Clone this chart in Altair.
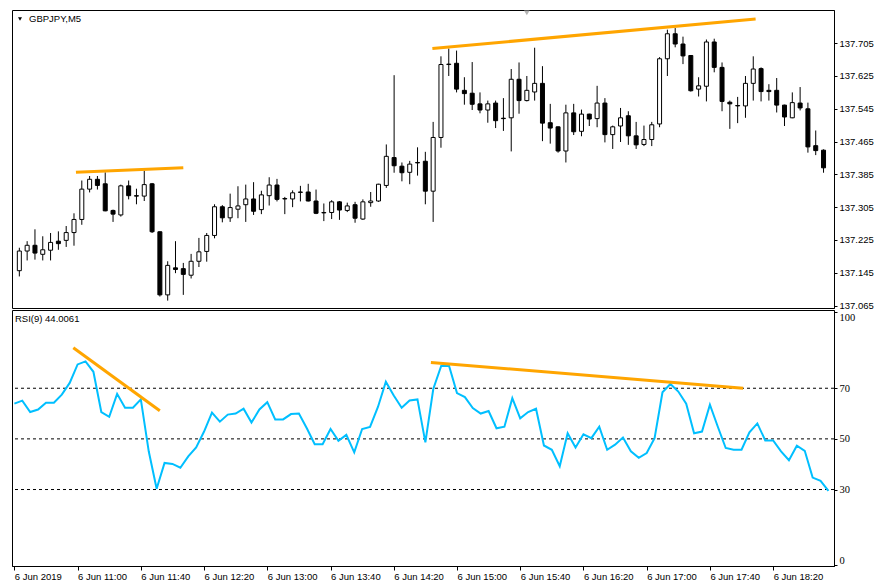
import altair as alt
import pandas as pd

# ---- candle data (GBPJPY, M5) ----
opens = [137.150, 137.198, 137.212, 137.190, 137.200, 137.222, 137.224, 137.243, 137.275, 137.349,
         137.373, 137.362, 137.297, 137.286, 137.357, 137.333, 137.332, 137.362, 137.245, 137.091,
         137.157, 137.155, 137.139, 137.173, 137.197, 137.236, 137.306, 137.279, 137.300, 137.311,
         137.325, 137.299, 137.333, 137.359, 137.326, 137.325, 137.341, 137.342, 137.320, 137.291,
         137.292, 137.318, 137.297, 137.311, 137.276, 137.316, 137.320, 137.358, 137.426, 137.405,
         137.390, 137.414, 137.417, 137.344, 137.475, 137.653, 137.656, 137.590, 137.583, 137.557,
         137.542, 137.559, 137.522, 137.523, 137.617, 137.565, 137.586, 137.607, 137.511, 137.501,
         137.442, 137.535, 137.490, 137.532, 137.521, 137.559, 137.482, 137.503, 137.528, 137.479,
         137.458, 137.470, 137.508, 137.667, 137.728, 137.703, 137.675, 137.593, 137.600, 137.708,
         137.646, 137.561, 137.553, 137.552, 137.607, 137.643, 137.590, 137.590, 137.554, 137.523,
         137.559, 137.545, 137.455, 137.444]
highs = [137.206, 137.222, 137.251, 137.234, 137.242, 137.246, 137.259, 137.290, 137.370, 137.381,
         137.381, 137.390, 137.299, 137.360, 137.370, 137.350, 137.394, 137.364, 137.246, 137.173,
         137.222, 137.169, 137.191, 137.230, 137.242, 137.312, 137.310, 137.338, 137.356, 137.360,
         137.366, 137.345, 137.378, 137.374, 137.330, 137.346, 137.357, 137.362, 137.348, 137.314,
         137.322, 137.320, 137.316, 137.318, 137.324, 137.342, 137.362, 137.458, 137.627, 137.414,
         137.418, 137.451, 137.440, 137.513, 137.673, 137.692, 137.687, 137.622, 137.659, 137.585,
         137.565, 137.565, 137.571, 137.642, 137.658, 137.625, 137.694, 137.649, 137.557, 137.502,
         137.555, 137.557, 137.543, 137.533, 137.601, 137.571, 137.504, 137.547, 137.539, 137.513,
         137.504, 137.513, 137.671, 137.738, 137.742, 137.721, 137.676, 137.622, 137.714, 137.716,
         137.658, 137.565, 137.574, 137.625, 137.673, 137.646, 137.605, 137.620, 137.555, 137.585,
         137.598, 137.560, 137.492, 137.446]
lows = [137.136, 137.175, 137.177, 137.175, 137.175, 137.201, 137.208, 137.211, 137.262, 137.341,
        137.348, 137.295, 137.269, 137.282, 137.324, 137.312, 137.320, 137.242, 137.087, 137.077,
        137.144, 137.091, 137.131, 137.159, 137.172, 137.229, 137.268, 137.269, 137.278, 137.269,
        137.286, 137.288, 137.309, 137.319, 137.288, 137.305, 137.319, 137.319, 137.288, 137.271,
        137.276, 137.274, 137.293, 137.267, 137.274, 137.306, 137.318, 137.352, 137.389, 137.368,
        137.361, 137.382, 137.312, 137.269, 137.450, 137.625, 137.585, 137.555, 137.542, 137.534,
        137.511, 137.498, 137.491, 137.441, 137.533, 137.563, 137.565, 137.466, 137.460, 137.438,
        137.414, 137.481, 137.478, 137.503, 137.500, 137.463, 137.447, 137.464, 137.457, 137.447,
        137.454, 137.454, 137.500, 137.625, 137.695, 137.654, 137.587, 137.575, 137.563, 137.634,
        137.539, 137.496, 137.510, 137.523, 137.565, 137.563, 137.565, 137.536, 137.503, 137.522,
        137.541, 137.438, 137.432, 137.389]
closes = [137.198, 137.212, 137.193, 137.201, 137.219, 137.216, 137.243, 137.275, 137.349, 137.373,
          137.358, 137.296, 137.288, 137.357, 137.333, 137.332, 137.360, 137.245, 137.091, 137.163,
          137.153, 137.141, 137.173, 137.196, 137.236, 137.306, 137.279, 137.304, 137.308, 137.325,
          137.295, 137.335, 137.359, 137.324, 137.325, 137.340, 137.342, 137.320, 137.290, 137.292,
          137.318, 137.298, 137.308, 137.278, 137.318, 137.320, 137.361, 137.429, 137.406, 137.389,
          137.410, 137.413, 137.344, 137.475, 137.653, 137.654, 137.593, 137.582, 137.556, 137.542,
          137.557, 137.516, 137.521, 137.617, 137.565, 137.590, 137.607, 137.510, 137.498, 137.442,
          137.535, 137.489, 137.532, 137.520, 137.559, 137.482, 137.501, 137.523, 137.479, 137.457,
          137.470, 137.506, 137.667, 137.728, 137.703, 137.674, 137.589, 137.601, 137.708, 137.646,
          137.563, 137.557, 137.552, 137.607, 137.642, 137.587, 137.587, 137.554, 137.525, 137.560,
          137.547, 137.452, 137.443, 137.401]

# ---- RSI(9) ----
rsi = [63.9, 65.1, 60.6, 61.6, 64.3, 64.3, 67.5, 72.1, 79.4, 80.6,
       76.5, 60.6, 58.7, 67.8, 62.3, 62.3, 65.6, 45.1, 30.3, 40.5,
       40.1, 38.6, 43.1, 46.6, 52.9, 60.4, 56.8, 59.6, 60.0, 61.9,
       56.5, 61.6, 64.5, 57.7, 57.7, 59.8, 60.0, 54.2, 47.9, 47.9,
       53.9, 49.2, 51.6, 44.7, 53.9, 54.7, 62.6, 72.6, 67.1, 62.3,
       65.2, 65.6, 48.6, 69.7, 78.8, 78.8, 68.1, 66.5, 62.2, 60.0,
       61.0, 54.2, 54.8, 66.1, 58.1, 60.6, 61.9, 47.4, 45.7, 39.2,
       52.2, 46.6, 51.8, 50.3, 54.8, 45.7, 47.7, 50.5, 45.1, 42.5,
       44.4, 50.3, 68.4, 71.7, 68.7, 63.9, 52.2, 52.9, 63.5, 54.8,
       46.4, 45.7, 45.7, 52.6, 56.1, 49.4, 49.4, 45.1, 41.6, 47.3,
       45.3, 34.7, 33.4, 29.5]

# ---- axes text ----
time_labels = ["6 Jun 2019", "6 Jun 11:00", "6 Jun 11:40", "6 Jun 12:20", "6 Jun 13:00",
               "6 Jun 13:40", "6 Jun 14:20", "6 Jun 15:00", "6 Jun 15:40", "6 Jun 16:20",
               "6 Jun 17:00", "6 Jun 17:40", "6 Jun 18:20"]
label_bars = [0, 8, 16, 24, 32, 40, 48, 56, 64, 72, 80, 88, 96]
price_ticks = [137.065, 137.145, 137.225, 137.305, 137.385, 137.465, 137.545, 137.625, 137.705]
rsi_ticks = [0, 30, 50, 70, 100]
rsi_levels = [70, 50, 30]

# ---- hand-drawn trend lines (bar index / value) ----
pl_x0 = [7.25, 52.9]
pl_x1 = [21.0, 94.3]
pl_y0 = [137.390, 137.692]
pl_y1 = [137.401, 137.764]
rl_x0 = [7.46, 52.7]
rl_x1 = [18.4, 92.2]
rl_y0 = [86.0, 80.2]
rl_y1 = [61.1, 70.0]

shift_marker_bar = [65.0]
shift_marker_price = [137.779]

symbol_title = "GBPJPY,M5"
rsi_title = "RSI(9) 44.0061"

# ---- tables ----
df = pd.DataFrame({"bar": list(range(len(opens))), "open": opens, "high": highs,
                   "low": lows, "close": closes, "rsi": rsi})
plines = pd.DataFrame({"x0": pl_x0, "x1": pl_x1, "y0": pl_y0, "y1": pl_y1})
rlines = pd.DataFrame({"x0": rl_x0, "x1": rl_x1, "y0": rl_y0, "y1": rl_y1})
levels = pd.DataFrame({"level": rsi_levels})
marker = pd.DataFrame({"bar": shift_marker_bar, "price": shift_marker_price})

W, HP, HR = 822, 298, 256
FONT = "Liberation Sans"
xscale = alt.Scale(domain=[-0.3, 103.7], nice=False, zero=False)
pscale = alt.Scale(domain=[137.059, 137.786], nice=False, zero=False)
rscale = alt.Scale(domain=[-0.2, 100.9], nice=False, zero=False)

price_axis = alt.Axis(orient="right", values=price_ticks, format=".3f", title=None,
                      tickSize=3, labelPadding=2, labelFontSize=9.5, grid=False)

base = alt.Chart(df)
wicks = base.mark_rule(color="black", strokeWidth=1).encode(
    x=alt.X("bar:Q", scale=xscale, axis=None),
    y=alt.Y("low:Q", scale=pscale, axis=price_axis),
    y2="high:Q",
)
bodies = base.mark_bar(size=4, stroke="black", strokeWidth=1).encode(
    x=alt.X("bar:Q", scale=xscale, axis=None),
    y=alt.Y("open:Q", scale=pscale, axis=price_axis),
    y2="close:Q",
    fill=alt.condition("datum.close > datum.open", alt.value("white"), alt.value("black")),
)
ptrend = alt.Chart(plines).mark_rule(color="#ffa500", strokeWidth=3, clip=True).encode(
    x=alt.X("x0:Q", scale=xscale, axis=None), x2="x1:Q",
    y=alt.Y("y0:Q", scale=pscale, axis=price_axis), y2="y1:Q",
)
shift = alt.Chart(marker).mark_point(shape="triangle-down", filled=True, size=32,
                                     color="#b4b4b4", opacity=1, clip=True).encode(
    x=alt.X("bar:Q", scale=xscale, axis=None),
    y=alt.Y("price:Q", scale=pscale, axis=price_axis),
)
tri = alt.Chart(pd.DataFrame({"t": [symbol_title]})).mark_point(
    shape="triangle-down", filled=True, size=16, color="black", opacity=1
).encode(x=alt.value(8), y=alt.value(9))
ttl = alt.Chart(pd.DataFrame({"t": [symbol_title]})).mark_text(
    align="left", baseline="middle", font=FONT, fontSize=9.5, color="black"
).encode(x=alt.value(17), y=alt.value(9), text="t:N")

price_pane = alt.layer(wicks, bodies, ptrend, shift, tri, ttl).properties(width=W, height=HP)

label_expr = "[" + ",".join("'" + t + "'" for t in time_labels) + "][round(datum.value/8)]"
x_axis = alt.Axis(values=label_bars, labelExpr=label_expr, title=None, tickSize=4,
                  labelAlign="left", labelBaseline="top", labelPadding=1,
                  labelFontSize=9.5, grid=False, labelFlush=False, labelOverlap=False)
rsi_axis = alt.Axis(orient="right", values=rsi_ticks, title=None, tickSize=3,
                    labelPadding=2, labelFont="Liberation Serif", labelFontSize=10.5,
                    labelFlush=6, grid=False)

lvl = alt.Chart(levels).mark_rule(color="black", strokeDash=[3, 3], strokeWidth=1).encode(
    y=alt.Y("level:Q", scale=rscale, axis=rsi_axis),
)
rline = base.mark_line(color="#00bfff", strokeWidth=2).encode(
    x=alt.X("bar:Q", scale=xscale, axis=x_axis),
    y=alt.Y("rsi:Q", scale=rscale, axis=rsi_axis),
)
rtrend = alt.Chart(rlines).mark_rule(color="#ffa500", strokeWidth=3, clip=True).encode(
    x=alt.X("x0:Q", scale=xscale, axis=x_axis), x2="x1:Q",
    y=alt.Y("y0:Q", scale=rscale, axis=rsi_axis), y2="y1:Q",
)
rttl = alt.Chart(pd.DataFrame({"t": [rsi_title]})).mark_text(
    align="left", baseline="middle", font=FONT, fontSize=9.5, color="black"
).encode(x=alt.value(3), y=alt.value(9), text="t:N")

rsi_pane = alt.layer(lvl, rline, rtrend, rttl).properties(width=W, height=HR)

chart = alt.vconcat(price_pane, rsi_pane, spacing=2, bounds="flush").properties(
    padding={"left": 1, "top": 1, "right": 0, "bottom": 0},
    background="white",
).configure_view(stroke="black", strokeWidth=1).configure_axis(
    domainColor="black", tickColor="black", labelColor="black", labelFont=FONT,
    domainWidth=1, tickWidth=1,
)

chart.save("out.html", embed_options={"renderer": "svg", "actions": False})
